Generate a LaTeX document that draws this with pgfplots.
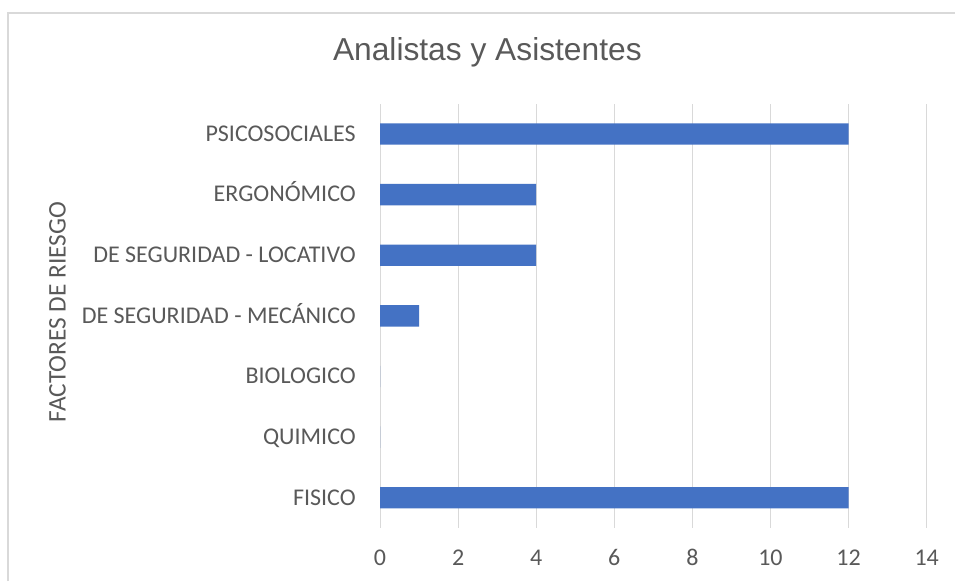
\documentclass[border=0pt]{standalone}
\usepackage{pgfplots}
\pgfplotsset{compat=1.18}
\usepackage{fontspec}
\setmainfont{Carlito}
\newfontfamily\titlefont{Liberation Sans}
\definecolor{barblue}{HTML}{4472C4}
\definecolor{gridgray}{HTML}{D9D9D9}
\definecolor{txtgray}{HTML}{595959}
\begin{document}
\begin{tikzpicture}
\useasboundingbox (0pt,0pt) rectangle (716.25pt,435.75pt);
\fill[white] (0pt,0pt) rectangle (716.25pt,435.75pt);
\draw[gridgray, line width=1pt] (6pt,0pt) -- (6pt,426pt) -- (716.25pt,426pt);
\begin{axis}[
  at={(285pt,39.75pt)}, anchor=south west,
  scale only axis, width=410pt, height=318.2pt,
  xbar, bar width=16pt,
  xmin=0, xmax=14, ymin=-0.5, ymax=6.5,
  xtick={0,2,...,14}, ytick={0,...,6},
  yticklabels={FISICO, QUIMICO, BIOLOGICO, {DE SEGURIDAD - MECÁNICO}, {DE SEGURIDAD - LOCATIVO}, ERGONÓMICO, PSICOSOCIALES},
  axis line style={draw=none},
  major tick length=0pt,
  xmajorgrids, grid style={gridgray, line width=0.75pt},
  /pgf/number format/assume math mode=true,
  ticklabel style={font=\fontsize{18}{20}\selectfont, text=txtgray, inner sep=0pt},
  yticklabel style={anchor=base east, xshift=-18pt, yshift=-5.5pt},
  xticklabel style={anchor=base, yshift=-27.75pt},
  ylabel={FACTORES DE RIESGO},
  ylabel style={at={(axis description cs:-0.59,0.509)}, anchor=center, font=\fontsize{19}{21}\selectfont, text=txtgray},
]
\addplot[fill=barblue, draw=none] coordinates {(12,0) (0,1) (0,2) (1,3) (4,4) (4,5) (12,6)};
\end{axis}
\node[anchor=base, text=txtgray, font=\titlefont\fontsize{23.8}{26}\selectfont, inner sep=0pt] at (365.5pt,390pt) {Analistas y Asistentes};
\end{tikzpicture}
\end{document}
